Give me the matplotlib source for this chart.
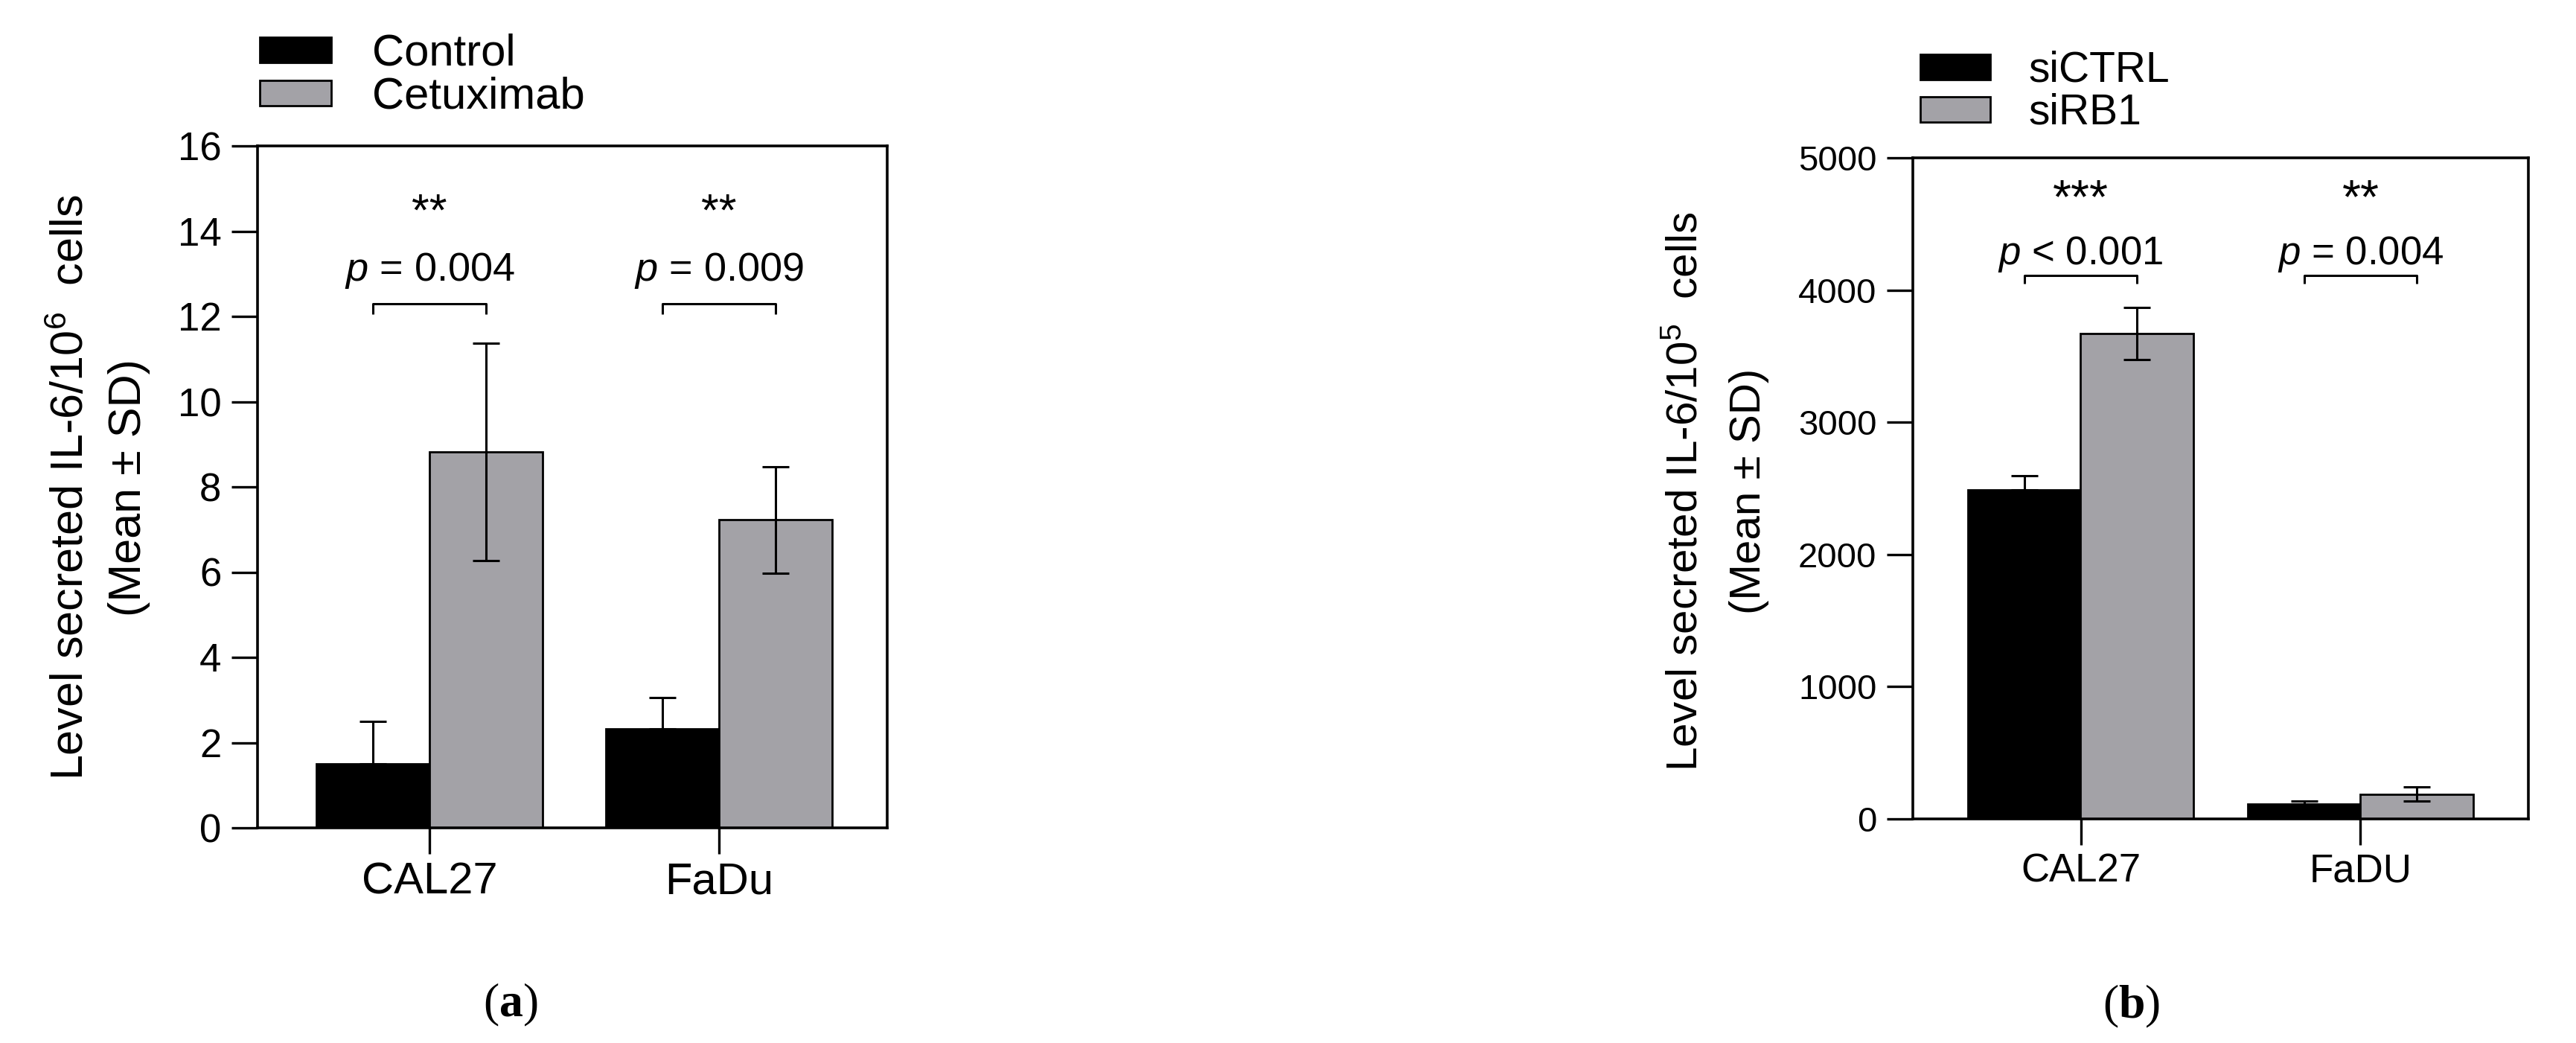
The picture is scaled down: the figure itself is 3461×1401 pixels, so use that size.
import numpy as np
import matplotlib
matplotlib.use('Agg')
import matplotlib.pyplot as plt

# ---- data ----
cell_lines_a = ['CAL27', 'FaDu']
control_mean = [1.50, 2.33]
control_sd = [1.00, 0.73]
cetux_mean = [8.82, 7.23]
cetux_sd = [2.55, 1.25]
pvals_a = ['= 0.004', '= 0.009']
stars_a = ['**', '**']
yticks_a = [0, 2, 4, 6, 8, 10, 12, 14, 16]

cell_lines_b = ['CAL27', 'FaDU']
sictrl_mean = [2489, 113]
sictrl_sd = [107, 22]
sirb1_mean = [3671, 188]
sirb1_sd = [195, 53]
pvals_b = ['< 0.001', '= 0.004']
stars_b = ['***', '**']
yticks_b = [0, 1000, 2000, 3000, 4000, 5000]

plt.rcParams['font.family'] = ['Liberation Sans', 'DejaVu Sans']
plt.rcParams['mathtext.fontset'] = 'custom'
plt.rcParams['mathtext.rm'] = 'Liberation Sans'
plt.rcParams['mathtext.it'] = 'Liberation Sans:italic'
plt.rcParams['mathtext.bf'] = 'Liberation Serif:bold'

GRAY = '#a3a2a7'
W, H = 3461, 1401


def fx(px):
    return px / W


def fy(py):
    return 1 - py / H


def draw_panel(ax, labels, m1, s1, m2, s2, width, off, xlim, ylim, yticks,
               tick_fs, xtick_fs, pvals, stars, star_y, p_y, br_top, br_leg,
               p_fs, star_fs):
    x = np.arange(len(labels))
    b1 = ax.bar(x - off, m1, width, color='black', edgecolor='black', linewidth=2, zorder=2)
    b2 = ax.bar(x + off, m2, width, color=GRAY, edgecolor='black', linewidth=2, zorder=2)

    # first group of each pair only shows the upper SD
    ax.errorbar(x - off, m1, yerr=[np.zeros(len(m1)), s1], fmt='none', ecolor='black',
                elinewidth=2.2, capsize=13, capthick=2.2, zorder=3)
    ax.errorbar(x + off, m2, yerr=s2, fmt='none', ecolor='black',
                elinewidth=2.2, capsize=13, capthick=2.2, zorder=3)

    for i in range(len(labels)):
        ax.plot([x[i] - off, x[i] - off, x[i] + off, x[i] + off],
                [br_leg, br_top, br_top, br_leg], color='black', lw=2.2,
                solid_capstyle='butt', zorder=3)
        ax.text(x[i], p_y, r'$p$ ' + pvals[i], ha='center', va='baseline',
                fontsize=p_fs)
        ax.text(x[i], star_y, stars[i], ha='center', va='baseline', fontsize=star_fs)

    ax.set_xlim(*xlim)
    ax.set_ylim(*ylim)
    ax.set_xticks(x)
    ax.set_xticklabels(labels, fontsize=xtick_fs)
    ax.set_yticks(yticks)
    ax.tick_params(axis='y', labelsize=tick_fs, length=25, width=2.4, pad=10)
    ax.tick_params(axis='x', length=25, width=2.4, pad=8)
    for sp in ax.spines.values():
        sp.set_linewidth(2.6)
    return b1, b2


fig = plt.figure(figsize=(W / 100, H / 100), dpi=100)

# panel (a)
ax1 = fig.add_axes([fx(346), fy(1112), fx(1192 - 346), (1112 - 196) / H])
h1 = draw_panel(ax1, cell_lines_a, control_mean, control_sd, cetux_mean, cetux_sd,
                width=0.39, off=0.195, xlim=(-0.594, 1.581), ylim=(0, 16), yticks=yticks_a,
                tick_fs=38, xtick_fs=43, pvals=pvals_a, stars=stars_a,
                star_y=14.14, p_y=12.83, br_top=12.3, br_leg=12.05,
                p_fs=39, star_fs=44)
ax1.legend(h1, ['Control', 'Cetuximab'], loc='upper left',
           bbox_to_anchor=(fx(349), fy(45)), bbox_transform=fig.transFigure,
           frameon=False, fontsize=43, borderpad=0, borderaxespad=0,
           handlelength=1.6, handleheight=0.5, handletextpad=0.93,
           labelspacing=0.05)

fig.text(fx(96), fy(655), r'Level secreted IL-6/10$^{6}$  cells', rotation=90,
         ha='center', va='center', fontsize=44)
fig.text(fx(174), fy(655), '(Mean ± SD)', rotation=90, ha='center', va='center',
         fontsize=44)
fig.text(fx(686), fy(1350), r'($\mathbf{a}$)', ha='center', va='center',
         fontsize=46, family='Liberation Serif')

# panel (b)
ax2 = fig.add_axes([fx(2570), fy(1100), fx(3397 - 2570), (1100 - 212) / H])
h2 = draw_panel(ax2, cell_lines_b, sictrl_mean, sictrl_sd, sirb1_mean, sirb1_sd,
                width=0.405, off=0.2, xlim=(-0.6, 1.6), ylim=(0, 5000), yticks=yticks_b,
                tick_fs=34, xtick_fs=38, pvals=pvals_b, stars=stars_b,
                star_y=4583, p_y=4195, br_top=4110, br_leg=4048,
                p_fs=38, star_fs=46)
ax2.legend(h2, ['siCTRL', 'siRB1'], loc='upper left',
           bbox_to_anchor=(fx(2580), fy(68)), bbox_transform=fig.transFigure,
           frameon=False, fontsize=41, borderpad=0, borderaxespad=0,
           handlelength=1.65, handleheight=0.55, handletextpad=0.9,
           labelspacing=0.05)

fig.text(fx(2265), fy(660), r'Level secreted IL-6/10$^{5}$  cells', rotation=90,
         ha='center', va='center', fontsize=42)
fig.text(fx(2350), fy(660), '(Mean ± SD)', rotation=90, ha='center', va='center',
         fontsize=42)
fig.text(fx(2864), fy(1352), r'($\mathbf{b}$)', ha='center', va='center',
         fontsize=46, family='Liberation Serif')

fig.savefig('out.png', dpi=100)
plt.close(fig)
